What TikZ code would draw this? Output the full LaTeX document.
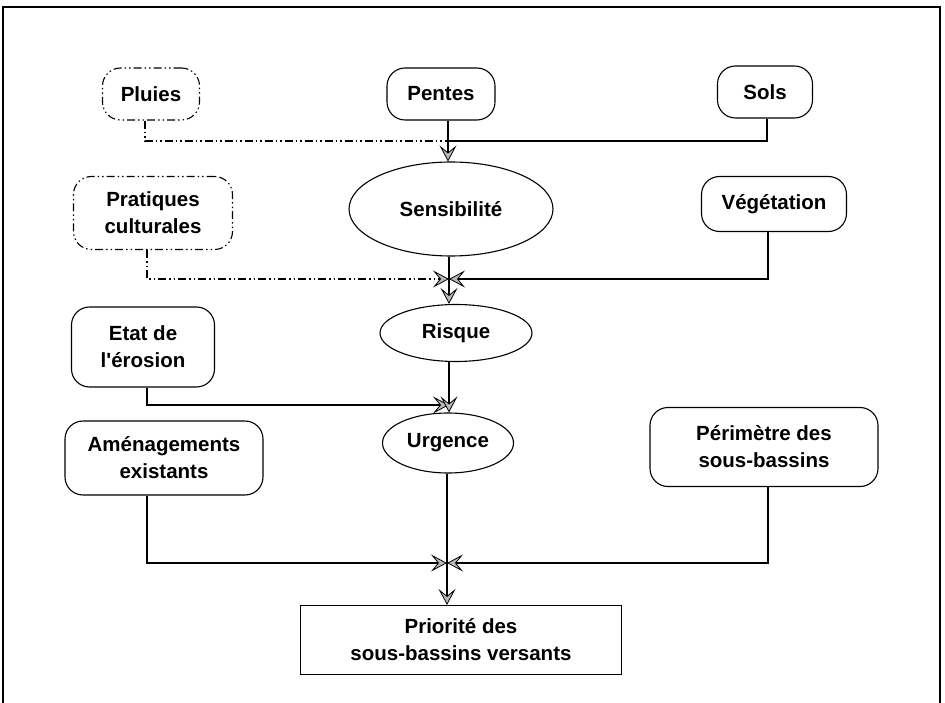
\documentclass[tikz,border=0pt]{standalone}
\usepackage{fontspec}
\setmainfont{Liberation Sans}
\usetikzlibrary{shapes.geometric,arrows.meta,calc}
\begin{document}
\begin{tikzpicture}[x=1pt,y=-1pt,
  every node/.style={font=\fontsize{20.5}{27}\selectfont\bfseries, align=center, inner sep=2pt},
  box/.style={draw, line width=1.1pt, rounded corners=18pt},
  ddbox/.style={box, dash pattern=on 8pt off 3pt on 1.5pt off 3pt on 1.5pt off 3pt},
  ell/.style={draw, ellipse, line width=1.1pt},
  con/.style={line width=1.1pt},
  dd/.style={con, dash pattern=on 8pt off 3pt on 1.5pt off 3pt on 1.5pt off 3pt},
  >={Stealth[length=16pt,width=17pt,inset=7pt,fill=gray!55,line width=0.8pt]}
]
\useasboundingbox (0,0) rectangle (945,703);
\draw[line width=1.2pt] (3,703) -- (3,7) -- (940,7) -- (940,703);

\node[ddbox, minimum width=97, minimum height=52] (pluies) at (151,94) {Pluies};
\node[box, minimum width=108, minimum height=52] (pentes) at (441,94) {Pentes};
\node[box, minimum width=95, minimum height=52] (sols) at (765,92) {Sols};
\node[ell, minimum width=204, minimum height=94] (sens) at (451,209) {Sensibilité};
\node[ddbox, minimum width=159, minimum height=73] (prat) at (153,213) {Pratiques\\culturales};
\node[box, minimum width=145, minimum height=55] (veg) at (774,204) {Végétation};
\node[ell, minimum width=152, minimum height=57] (risque) at (456,333) {Risque};
\node[box, minimum width=143, minimum height=80] (etat) at (143,347) {Etat de\\l\textquotesingle érosion};
\node[ell, minimum width=131, minimum height=60] (urg) at (448,443) {Urgence};
\node[box, minimum width=198, minimum height=74] (amen) at (164,458) {Aménagements\\existants};
\node[box, minimum width=228, minimum height=79] (perim) at (764,447) {Périmètre des\\sous-bassins};
\node[draw, line width=1.1pt, minimum width=321, minimum height=69] (prio) at (461,640) {Priorité des\\sous-bassins versants};

\coordinate (j1) at (448,141);
\coordinate (j2) at (449,279);
\coordinate (j3) at (449,405);
\coordinate (j4) at (447,563);

% level 1
\draw[dd] ([xshift=-6pt]pluies.south) |- (j1);
\draw[con] ([xshift=2pt]sols.south) |- (j1);
\draw[con,->] (pentes.south -| j1) -- (sens.north -| j1);

% level 2
\draw[dd,->] ([xshift=-6pt]prat.south) |- (j2);
\draw[con,->] ([xshift=-6pt]veg.south) |- (j2);
\draw[con] (sens.south -| j2) -- (j2);
\draw[con,->] (j2) -- (risque.north -| j2);

% level 3
\draw[con,->] ([xshift=4pt]etat.south) |- (j3);
\draw[con,->] (risque.south -| j3) -- (urg.north -| j3);

% level 4
\draw[con,->] ([xshift=-17pt]amen.south) |- (j4);
\draw[con,->] ([xshift=4pt]perim.south) |- (j4);
\draw[con] (urg.south -| j4) -- (j4);
\draw[con,->] (j4) -- (prio.north -| j4);
\end{tikzpicture}
\end{document}
